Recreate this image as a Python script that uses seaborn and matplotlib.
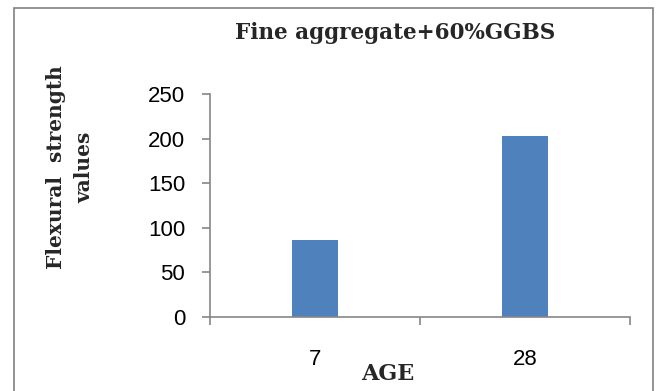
import matplotlib
matplotlib.use("Agg")
import matplotlib.pyplot as plt
import seaborn as sns
import pandas as pd
from matplotlib.patches import Rectangle

ages = ["7", "28"]
strength = [86.8, 202.7]
yticks = [0, 50, 100, 150, 200, 250]
title = "Fine aggregate+60%GGBS"
xlabel = "AGE"
ylabel = "Flexural  strength\nvalues"

sns.set_theme(style="white")
plt.rcParams['font.family'] = ['Liberation Sans', 'DejaVu Sans']

df = pd.DataFrame({"age": ages, "strength": strength})

W, H = 657, 391
fig = plt.figure(figsize=(W / 100, H / 100), dpi=100)
ax = fig.add_axes([210 / W, 1 - 317 / H, 420 / W, 223 / H])

sns.barplot(data=df, x="age", y="strength", color="#4F81BD", width=0.22,
            saturation=1, ax=ax, edgecolor="none")

gray = "#868686"
ax.set_xlim(-0.5, 1.5)
ax.set_ylim(0, 250)
ax.set_yticks(yticks)
ax.set_yticklabels([str(v) for v in yticks], fontsize=16, color="black")
ax.set_xticks([-0.5, 0.5, 1.5])
ax.set_xticklabels([])
ax.set_xticks([0, 1], minor=True)
ax.set_xticklabels(ages, minor=True, fontsize=16, color="black")
ax.tick_params(axis="x", which="major", length=6, width=1.2, color=gray, direction="out", bottom=True)
ax.tick_params(axis="x", which="minor", length=0, pad=23)
ax.tick_params(axis="y", length=6, width=1.2, color=gray, direction="out", left=True, pad=12)
ax.set_xlabel("")
ax.set_ylabel("")
for s in ["top", "right"]:
    ax.spines[s].set_visible(False)
for s in ["left", "bottom"]:
    ax.spines[s].set_color(gray)
    ax.spines[s].set_linewidth(1.2)

serif = ['DejaVu Serif']
fig.text(395 / W, 1 - 39 / H, title, ha="center", va="baseline",
         fontsize=15.5, fontweight="bold", family=serif)
fig.text(388 / W, 1 - 380 / H, xlabel, ha="center", va="baseline",
         fontsize=16, fontweight="bold", family=serif)
fig.text(70 / W, 1 - 167 / H, ylabel, ha="center", va="center", rotation=90,
         fontsize=14.5, fontweight="bold", family=serif, linespacing=1.5,
         multialignment="center")

fig.patches.append(Rectangle((14 / W, -0.05), (653 - 14) / W, 1.05 - 8 / H,
                             transform=fig.transFigure, fill=False,
                             edgecolor="#808080", linewidth=1.2))

fig.savefig("out.png", dpi=100)
